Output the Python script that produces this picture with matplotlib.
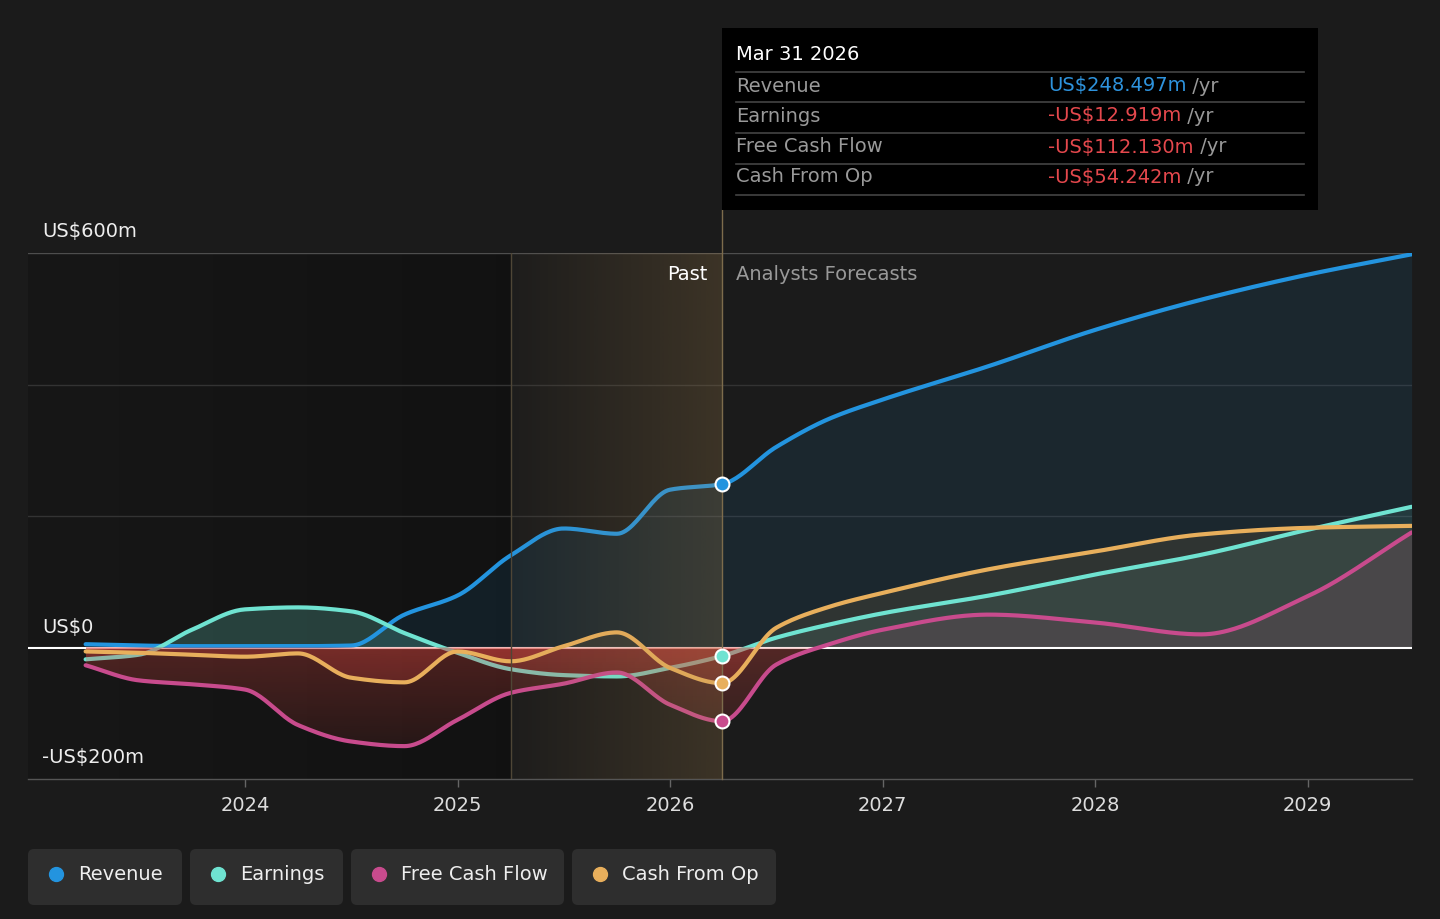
import numpy as np
import matplotlib
matplotlib.use("Agg")
import matplotlib.pyplot as plt
from matplotlib.colors import to_rgb
from matplotlib.patches import FancyBboxPatch, Rectangle

# data (US$m), dates as decimal years
dates = [2023.25, 2023.5, 2023.75, 2024.0, 2024.25, 2024.5, 2024.75, 2025.0,
         2025.25, 2025.5, 2025.75, 2026.0, 2026.245, 2026.5, 2026.75, 2027.0,
         2027.5, 2028.0, 2028.5, 2029.0, 2029.49]
revenue = [5, 3, 2, 2, 2, 3, 50, 79, 140, 181, 173, 240, 248.497, 305, 348,
           377, 428, 483, 529, 567, 598]
earnings = [-18, -11, 27, 58, 61, 55, 22, -8, -33, -42, -44, -31, -12.919, 15,
            35, 52, 79, 111, 141, 179, 214]
free_cash_flow = [-27, -50, -56, -64, -118, -143, -150, -110, -69, -55, -38,
                  -87, -112.130, -26, 5, 27, 50, 38, 20, 78, 175]
cash_from_op = [-6, -8, -11, -14, -9, -46, -53, -6, -21, 2, 23, -31, -54.242,
                30, 62, 83, 119, 146, 172, 182, 185]

series_names = ["Revenue", "Earnings", "Free Cash Flow", "Cash From Op"]
series_colors = ["#2394df", "#6fe3d1", "#c84b8d", "#e8af5c"]
fill_alphas = [(0.1, 0.1), (0.22, 0.1), (0.12, 0.12), (0.1, 0.1)]  # (past, forecast)
tooltip_values = ["US$248.497m", "-US$12.919m", "-US$112.130m", "-US$54.242m"]
year_ticks = [2024, 2025, 2026, 2027, 2028, 2029]
y_labels = [(232, "US$600m"), (627, "US$0"), (758, "-US$200m")]

today = 2026.245
past_start = 2025.25

BG = "#1b1b1b"
RED = "#d8443e"


def monotone(x, y, n=600):
    # monotone cubic curve, like d3 curveMonotoneX
    x = np.asarray(x, float)
    y = np.asarray(y, float)
    h = np.diff(x)
    d = np.diff(y) / h
    m = np.zeros_like(y)
    with np.errstate(divide="ignore", invalid="ignore"):
        inner = 3 * (h[:-1] + h[1:]) / ((2 * h[1:] + h[:-1]) / d[:-1] + (h[1:] + 2 * h[:-1]) / d[1:])
    m[1:-1] = np.where(d[:-1] * d[1:] > 0, inner, 0)
    m[0] = d[0]
    m[-1] = d[-1]
    xs = np.linspace(x[0], x[-1], n)
    xs = np.sort(np.append(xs, today))
    i = np.clip(np.searchsorted(x, xs) - 1, 0, len(h) - 1)
    t = (xs - x[i]) / h[i]
    ys = ((2 * t**3 - 3 * t**2 + 1) * y[i] + (t**3 - 2 * t**2 + t) * h[i] * m[i]
          + (-2 * t**3 + 3 * t**2) * y[i + 1] + (t**3 - t**2) * h[i] * m[i + 1])
    return xs, ys


def neg_fill(ax, xs, ys, z):
    yn = np.minimum(ys, 0)
    poly = ax.fill_between(xs, yn, 0, facecolor="none", edgecolor="none", zorder=z)
    grad = np.zeros((256, 1, 4))
    grad[..., :3] = to_rgb(RED)
    grad[:, 0, 3] = np.linspace(0.3, 0.04, 256)
    im = ax.imshow(grad, extent=[xs[0], xs[-1], -200, 0], aspect="auto",
                   origin="upper", zorder=z, interpolation="bilinear")
    im.set_clip_path(poly.get_paths()[0], transform=ax.transData)


W, H = 1440, 919
fig = plt.figure(figsize=(W / 100, H / 100), dpi=100, facecolor=BG)

x0_yr = 2024 - (245 - 28) / 212.5
x1_yr = 2024 + (1412 - 245) / 212.5
ax = fig.add_axes([28 / W, 1 - 779 / H, (1412 - 28) / W, (779 - 253) / H])
ax.set_facecolor("none")

# darker past background
g = np.zeros((1, 256, 4))
g[..., :3] = np.linspace(0.09, 0.07, 256)[None, :, None]
g[..., 3] = 1
ax.imshow(g, extent=[x0_yr, past_start, -200, 600], aspect="auto", zorder=0)

# gridlines
for v, c in [(600, "#4e4e4e"), (400, "#333333"), (200, "#333333")]:
    ax.axhline(v, color=c, lw=1, zorder=0.5)

all_series = [revenue, earnings, free_cash_flow, cash_from_op]
curves = [monotone(dates, s) for s in all_series]

for (xs, ys), c, (a_past, a_fut) in zip(curves, series_colors, fill_alphas):
    yp = np.maximum(ys, 0)
    ax.fill_between(xs, yp, 0, where=xs <= today, color=c, alpha=a_past, lw=0, zorder=1)
    ax.fill_between(xs, yp, 0, where=xs >= today, color=c, alpha=a_fut, lw=0, zorder=1)

ax.axhline(0, color="white", lw=1.5, zorder=1.4)
neg_fill(ax, *curves[0], 1.5)
neg_fill(ax, *curves[1], 1.6)
ax.plot(*curves[0], color=series_colors[0], lw=3, zorder=2.9, solid_capstyle="round")
ax.plot(*curves[1], color=series_colors[1], lw=3, zorder=3.0, solid_capstyle="round")
neg_fill(ax, *curves[2], 3.1)
ax.plot(*curves[2], color=series_colors[2], lw=3, zorder=3.2, solid_capstyle="round")
neg_fill(ax, *curves[3], 3.3)
ax.plot(*curves[3], color=series_colors[3], lw=3, zorder=3.4, solid_capstyle="round")

# highlighted last-year band
hg = np.zeros((1, 256, 4))
hg[..., :3] = to_rgb("#b48c50")
hg[..., 3] = np.linspace(0.02, 0.22, 256)
ax.imshow(hg, extent=[past_start, today, -200, 600], aspect="auto", zorder=4)
ax.axvline(past_start, color="#4f4636", lw=1, zorder=4.1)
ax.plot([today, today], [-200, 600 + 43 / 0.6583], color="#7d6c4c", lw=1,
        zorder=4.1, clip_on=False)

for s, c in zip(all_series, series_colors):
    ax.plot(today, s[dates.index(today)], "o", ms=10, mfc=c, mec="white", mew=1.5, zorder=6)

ax.set_xlim(x0_yr, x1_yr)
ax.set_ylim(-200, 600)
ax.set_xticks(year_ticks)
ax.set_xticklabels([str(y) for y in year_ticks])
ax.set_yticks([])
ax.tick_params(axis="x", colors="#666666", length=6, width=1, labelsize=14,
               labelcolor="#dddddd", pad=6)
for k in ["top", "left", "right"]:
    ax.spines[k].set_visible(False)
ax.spines["bottom"].set_color("#555555")
ax.spines["bottom"].set_linewidth(1)

ax.text(today - 0.07, 568, "Past", color="white", fontsize=14, ha="right", va="center", zorder=7)
ax.text(today + 0.065, 568, "Analysts Forecasts", color="#999999", fontsize=14,
        ha="left", va="center", zorder=7)

# overlay in pixel coordinates
ov = fig.add_axes([0, 0, 1, 1], zorder=10)
ov.set_xlim(0, W)
ov.set_ylim(H, 0)
ov.axis("off")
ov.patch.set_alpha(0)

for ypx, t in y_labels:
    ov.text(42, ypx, t, color="#eeeeee", fontsize=14, va="center", ha="left")

# tooltip
ov.add_patch(Rectangle((722, 28), 596, 182, facecolor="black", edgecolor="none"))
ov.text(736, 55, "Mar 31 2026", color="white", fontsize=14, va="center")
for yl in [72, 102, 133, 164, 195]:
    ov.plot([736, 1304], [yl, yl], color="#444444", lw=1.2)
row_y = [86, 116, 147, 177]
val_colors = ["#2e93dd", "#e5484d", "#e5484d", "#e5484d"]
for name, val, vc, yy in zip(series_names, tooltip_values, val_colors, row_y):
    ov.text(736, yy, name, color="#999999", fontsize=14, va="center")
    t = ov.text(1048, yy, val, color=vc, fontsize=14, va="center")
    ov.annotate(" /yr", xycoords=t, xy=(1, 0.5), va="center", ha="left",
                color="#999999", fontsize=14)

# legend
boxes = [(28, 182), (190, 343), (351, 564), (572, 776)]
for (bx0, bx1), name, c in zip(boxes, series_names, series_colors):
    ov.add_patch(FancyBboxPatch((bx0, 849), bx1 - bx0, 56,
                                boxstyle="round,pad=0,rounding_size=6",
                                facecolor="#2e2e2e", edgecolor="none"))
    ov.plot(bx0 + 28, 874, "o", ms=10, color=c)
    ov.text(bx0 + 50, 874, name, color="#eeeeee", fontsize=14, va="center")

fig.savefig("out.png", dpi=100, facecolor=BG)
